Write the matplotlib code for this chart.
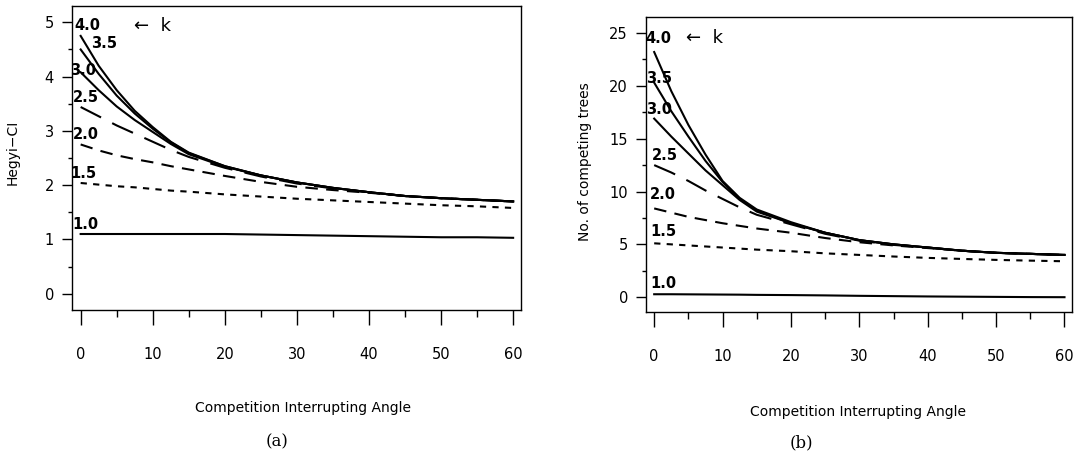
import numpy as np
import matplotlib.pyplot as plt
from matplotlib.ticker import MultipleLocator

# angles (degrees) and curves
angle = [0, 2.5, 5, 7.5, 10, 12.5, 15, 20, 25, 30, 35, 40, 45, 50, 55, 60]
k_values = ['1.0', '1.5', '2.0', '2.5', '3.0', '3.5', '4.0']

# (a) Hegyi competition index
hegyi = {
    '4.0': [4.75, 4.20, 3.75, 3.37, 3.07, 2.80, 2.60, 2.35, 2.18, 2.05, 1.95, 1.87, 1.80, 1.76, 1.73, 1.70],
    '3.5': [4.50, 4.05, 3.65, 3.32, 3.04, 2.79, 2.59, 2.35, 2.18, 2.05, 1.95, 1.87, 1.80, 1.76, 1.73, 1.70],
    '3.0': [4.08, 3.75, 3.45, 3.20, 2.98, 2.76, 2.57, 2.34, 2.18, 2.05, 1.95, 1.87, 1.80, 1.76, 1.73, 1.70],
    '2.5': [3.44, 3.27, 3.10, 2.95, 2.80, 2.65, 2.52, 2.32, 2.16, 2.03, 1.94, 1.87, 1.80, 1.76, 1.73, 1.70],
    '2.0': [2.75, 2.64, 2.55, 2.48, 2.42, 2.35, 2.29, 2.17, 2.06, 1.97, 1.91, 1.86, 1.80, 1.76, 1.73, 1.70],
    '1.5': [2.04, 2.01, 1.98, 1.96, 1.93, 1.90, 1.88, 1.83, 1.79, 1.75, 1.72, 1.69, 1.66, 1.63, 1.61, 1.58],
    '1.0': [1.10, 1.10, 1.10, 1.10, 1.10, 1.10, 1.10, 1.10, 1.09, 1.08, 1.07, 1.06, 1.05, 1.04, 1.04, 1.03],
}

# (b) number of competing trees
n_trees = {
    '4.0': [23.2, 19.5, 16.3, 13.5, 11.0, 9.4, 8.3, 7.1, 6.1, 5.4, 5.0, 4.7, 4.4, 4.2, 4.1, 4.0],
    '3.5': [20.3, 17.6, 15.2, 12.9, 10.9, 9.3, 8.2, 7.0, 6.1, 5.4, 5.0, 4.7, 4.4, 4.2, 4.1, 4.0],
    '3.0': [16.9, 15.2, 13.6, 12.0, 10.6, 9.2, 8.1, 7.0, 6.1, 5.4, 5.0, 4.7, 4.4, 4.2, 4.1, 4.0],
    '2.5': [12.5, 11.8, 11.0, 10.1, 9.3, 8.5, 7.8, 6.9, 6.0, 5.35, 4.95, 4.7, 4.4, 4.2, 4.1, 4.0],
    '2.0': [8.4, 8.0, 7.6, 7.3, 7.0, 6.75, 6.5, 6.1, 5.6, 5.2, 4.9, 4.65, 4.4, 4.2, 4.1, 4.0],
    '1.5': [5.1, 5.0, 4.9, 4.8, 4.7, 4.6, 4.5, 4.35, 4.15, 4.0, 3.85, 3.72, 3.62, 3.53, 3.46, 3.4],
    '1.0': [0.28, 0.28, 0.27, 0.26, 0.25, 0.24, 0.22, 0.20, 0.17, 0.13, 0.10, 0.07, 0.05, 0.03, 0.01, 0.0],
}

# line style per k
styles = {
    '1.0': '-', '1.5': (0, (3, 3)), '2.0': (0, (6, 4)), '2.5': (0, (11, 6)),
    '3.0': '-', '3.5': '-', '4.0': '-',
}

# where the k labels sit (data coords)
label_pos_a = {'4.0': (1.0, 4.94), '3.5': (3.2, 4.61), '3.0': (0.4, 4.12), '2.5': (0.7, 3.62),
               '2.0': (0.7, 2.94), '1.5': (0.4, 2.22), '1.0': (0.6, 1.27)}
label_pos_b = {'4.0': (0.6, 24.5), '3.5': (0.7, 20.7), '3.0': (0.7, 17.8), '2.5': (1.5, 13.4),
               '2.0': (1.3, 9.75), '1.5': (1.3, 6.2), '1.0': (1.3, 1.3)}

plt.rcParams['font.family'] = ['DejaVu Sans']

fig = plt.figure(figsize=(10.91, 4.55), dpi=100)
ax1 = fig.add_axes([0.066, 0.3187, 0.4116, 0.668])
ax2 = fig.add_axes([0.5921, 0.3143, 0.3905, 0.648])


def draw(ax, data, label_pos, ylim, ymajor, yminor, ylabel, arrow_xy):
    for k in k_values:
        ax.plot(angle, data[k], color='black', lw=1.5, linestyle=styles[k])
        x, y = label_pos[k]
        ax.text(x, y, k, fontsize=10.5, fontweight='bold', ha='center', va='center')
    ax.text(arrow_xy[0], arrow_xy[1], '\u2190  k', fontsize=13, ha='center', va='center')
    ax.set_xlim(-1.2, 61.1)
    ax.set_ylim(*ylim)
    ax.xaxis.set_major_locator(MultipleLocator(10))
    ax.xaxis.set_minor_locator(MultipleLocator(5))
    ax.yaxis.set_major_locator(MultipleLocator(ymajor))
    ax.yaxis.set_minor_locator(MultipleLocator(yminor))
    ax.tick_params(axis='x', which='major', length=11, width=1, pad=16, labelsize=10.5)
    ax.tick_params(axis='x', which='minor', length=5, width=1)
    ax.tick_params(axis='y', which='major', length=7, width=1, pad=6, labelsize=10.5)
    ax.tick_params(axis='y', which='minor', length=3, width=1)
    for s in ax.spines.values():
        s.set_linewidth(1.0)
    ax.set_ylabel(ylabel, fontsize=10)
    ax.set_xlabel('Competition Interrupting Angle', fontsize=10)


draw(ax1, hegyi, label_pos_a, (-0.3, 5.3), 1, 0.5, 'Hegyi\u2212CI', (9.9, 4.94))
ax1.yaxis.set_label_coords(-0.116, 0.52)
ax1.xaxis.set_label_coords(0.514, -0.30)

draw(ax2, n_trees, label_pos_b, (-1.4, 26.5), 5, 2.5, 'No. of competing trees', (7.3, 24.5))
ax2.yaxis.set_label_coords(-0.127, 0.51)
ax2.xaxis.set_label_coords(0.498, -0.315)

fig.text(0.254, 0.029, '(a)', fontsize=12, family='DejaVu Serif', ha='center', va='center')
fig.text(0.735, 0.026, '(b)', fontsize=12, family='DejaVu Serif', ha='center', va='center')

fig.savefig('out.png', dpi=100)
